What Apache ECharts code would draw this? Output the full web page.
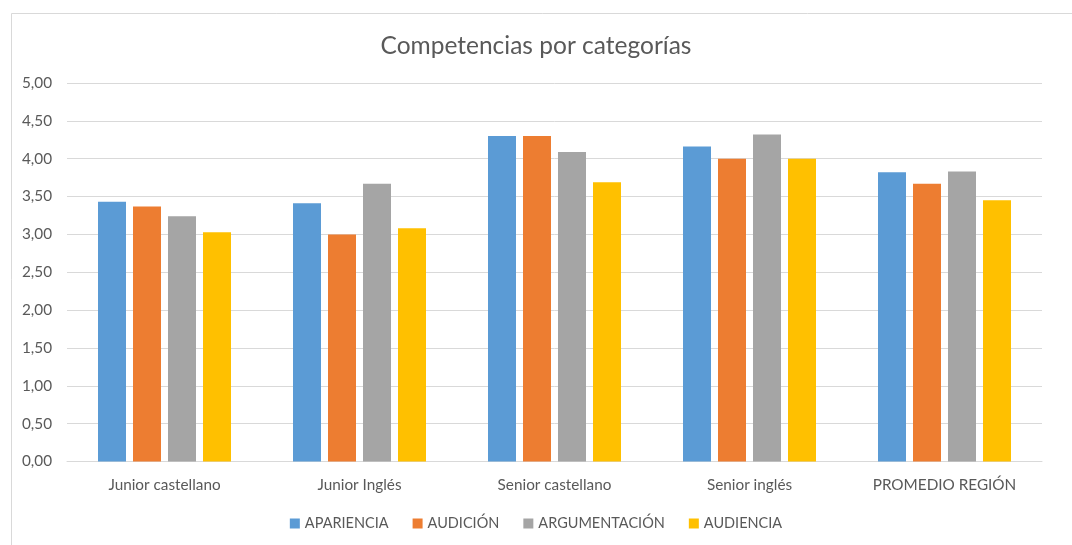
<!DOCTYPE html>
<html><head><meta charset="utf-8">
<script src="https://cdn.jsdelivr.net/npm/echarts@6/dist/echarts.min.js"></script>
<style>html,body{margin:0;padding:0;background:#fff}#c{width:1072px;height:545px}</style>
</head><body><div id="c"></div>
<script>
const categories = ['Junior castellano', 'Junior Inglés', 'Senior castellano', 'Senior inglés', 'PROMEDIO REGIÓN'];
const apariencia = [3.43, 3.41, 4.30, 4.16, 3.82];
const audicion = [3.37, 3.00, 4.30, 4.00, 3.67];
const argumentacion = [3.24, 3.67, 4.09, 4.32, 3.83];
const audiencia = [3.03, 3.08, 3.69, 4.00, 3.45];
const seriesNames = ['APARIENCIA', 'AUDICIÓN', 'ARGUMENTACIÓN', 'AUDIENCIA'];
const colors = ['#5b9bd5', '#ed7d31', '#a5a5a5', '#ffc000'];
const values = [apariencia, audicion, argumentacion, audiencia];

const font = 'Lato, "Open Sans", sans-serif';
const chart = echarts.init(document.getElementById('c'), null, {renderer: 'canvas'});
chart.setOption({
  animation: false,
  backgroundColor: '#fff',
  color: colors,
  graphic: [{
    type: 'rect', left: 9, top: 11, z: -1,
    shape: {width: 1070, height: 540},
    style: {fill: 'none', stroke: '#d9d9d9', lineWidth: 1}
  }],
  title: {
    text: 'Competencias por categorías', left: 'center', top: 29,
    textStyle: {fontFamily: font, fontSize: 24.5, fontWeight: 'normal', color: '#595959'}
  },
  legend: {
    data: seriesNames, bottom: 9, left: 'center',
    itemWidth: 10, itemHeight: 10, itemGap: 24, icon: 'rect',
    textStyle: {fontFamily: font, fontSize: 14.5, color: '#595959'}
  },
  grid: {left: 67, right: 30, top: 83, bottom: 83.5},
  xAxis: {
    type: 'category', data: categories,
    axisLine: {lineStyle: {color: '#d9d9d9', width: 1}},
    axisTick: {show: false},
    axisLabel: {fontFamily: font, fontSize: 15.3, color: '#595959', margin: 16}
  },
  yAxis: {
    type: 'value', min: 0, max: 5, interval: 0.5,
    axisLine: {show: false}, axisTick: {show: false},
    splitLine: {lineStyle: {color: '#d9d9d9', width: 1}},
    axisLabel: {fontFamily: font, fontSize: 15.3, color: '#595959', margin: 15,
      formatter: v => v.toFixed(2).replace('.', ',')}
  },
  series: seriesNames.map((n, i) => ({
    name: n, type: 'bar', data: values[i],
    barWidth: 28, barGap: '25%',
    itemStyle: {color: colors[i]}
  }))
});
</script></body></html>
